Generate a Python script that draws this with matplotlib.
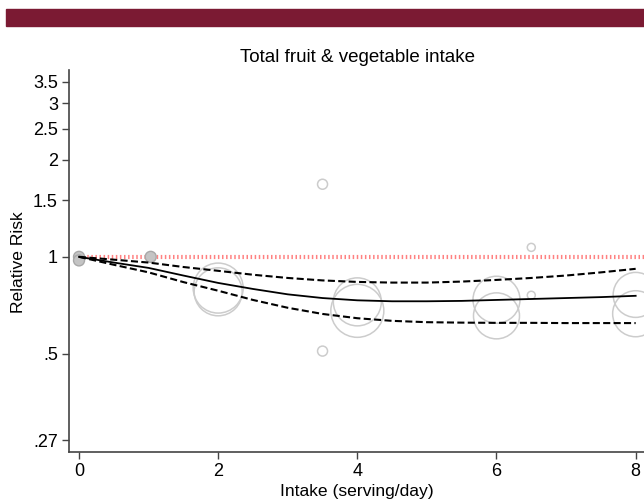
import matplotlib.pyplot as plt
import numpy as np
from matplotlib.ticker import FixedLocator, NullLocator

plt.rcParams['font.family'] = ['Liberation Sans', 'DejaVu Sans']

# dose-response curve (relative risk by intake)
curve_x = [0, 0.5, 1, 1.5, 2, 2.5, 3, 3.5, 4, 4.5, 5, 5.5, 6, 6.5, 7, 7.5, 8]
rr = [1.0, 0.96, 0.924, 0.875, 0.83, 0.795, 0.765, 0.745, 0.733, 0.728,
      0.728, 0.73, 0.735, 0.74, 0.745, 0.75, 0.757]
rr_upper = [1.0, 0.98, 0.96, 0.93, 0.905, 0.88, 0.86, 0.845, 0.836, 0.832,
            0.832, 0.838, 0.848, 0.86, 0.875, 0.895, 0.918]
rr_lower = [1.0, 0.945, 0.895, 0.835, 0.785, 0.735, 0.695, 0.665, 0.645,
            0.633, 0.627, 0.625, 0.624, 0.624, 0.623, 0.623, 0.623]

# study estimates (hollow circles, size ~ weight)
study_x = [2, 2, 4, 4, 6, 6, 8, 8, 3.5, 3.5, 6.5, 6.5]
study_rr = [0.80, 0.779, 0.725, 0.68, 0.736, 0.656, 0.762, 0.666,
            1.68, 0.51, 1.07, 0.76]
study_r = [25, 24, 24, 26.5, 23.5, 23, 22.5, 23, 5, 5, 4, 4]  # radius px

# reference category points (filled)
ref_x = [0, 0, 1.03]
ref_rr = [1.0, 0.975, 1.0]
ref_r = [5.5, 5.5, 5.5]

yticks = [0.27, 0.5, 1, 1.5, 2, 2.5, 3, 3.5]
ytick_labels = ['.27', '.5', '1', '1.5', '2', '2.5', '3', '3.5']
xticks = [0, 2, 4, 6, 8]

W, H = 644, 500
fig = plt.figure(figsize=(W / 100, H / 100), dpi=100)

# maroon banner
fig.patches.append(plt.Rectangle((6 / W, 1 - 26 / H), 1 - 6 / W, 17 / H,
                                 transform=fig.transFigure, color='#7b1a33'))

ax = fig.add_axes([69 / W, 48 / H, 1 - 69 / W, (452 - 70) / H])
ax.set_yscale('log')
ax.set_xlim(-0.144, 8.12)
ax.set_ylim(0.248, 3.8)

def s_of(r):
    return (2 * r * 0.72) ** 2

ax.plot([-0.06, 9], [1, 1], color='#ff6b6b', lw=3.0,
        linestyle=(0, (0.36, 0.62)), alpha=0.85, zorder=1)

ax.scatter(study_x, study_rr, s=[s_of(r) for r in study_r],
           facecolors='none', edgecolors='#cccccc', linewidths=1.1, zorder=2)
ax.scatter(ref_x, ref_rr, s=[s_of(r) for r in ref_r],
           facecolors='#c4c4c4', edgecolors='#a8a8a8', linewidths=1, zorder=2)

ax.plot(curve_x, rr, color='black', lw=1.3, zorder=3)
ax.plot(curve_x, rr_upper, color='black', lw=1.5, dashes=(3.4, 1.6), zorder=3)
ax.plot(curve_x, rr_lower, color='black', lw=1.5, dashes=(3.4, 1.6), zorder=3)

ax.yaxis.set_major_locator(FixedLocator(yticks))
ax.yaxis.set_minor_locator(NullLocator())
ax.set_yticklabels(ytick_labels)
ax.set_xticks(xticks)

for side in ['top', 'right']:
    ax.spines[side].set_visible(False)
for side in ['left', 'bottom']:
    ax.spines[side].set_color('#444444')
    ax.spines[side].set_linewidth(1.2)
ax.tick_params(axis='both', direction='out', length=5, width=1,
               color='#444444', labelsize=13, pad=3)

ax.set_xlabel('Intake (serving/day)', fontsize=12.6, labelpad=3)
fig.text(18.5 / W, 1 - 262 / H, 'Relative Risk', rotation=90,
         ha='center', va='center', fontsize=12.6)
fig.text(357 / W, 1 - 58 / H, 'Total fruit & vegetable intake',
         ha='center', va='center', fontsize=13.5)

fig.savefig('out.png', dpi=100)
